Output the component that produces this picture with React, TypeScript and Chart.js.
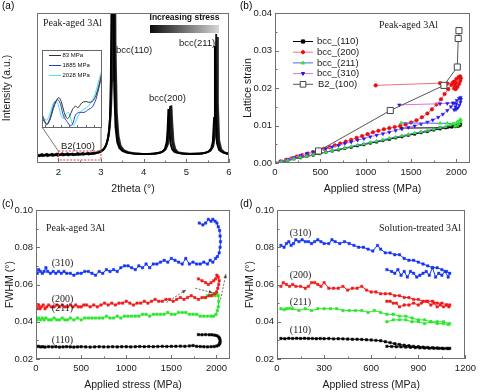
import React, { useEffect, useRef } from 'react';
import { Chart, registerables } from 'chart.js';
Chart.register(...registerables);

const SANS = "'Liberation Sans', Arial, sans-serif";
const SERIF = "'Liberation Serif', 'Times New Roman', serif";

type P = [number, number];

// ---------------- (a) XRD patterns ----------------
const A_X_TICKS = [2, 3, 4, 5, 6];
const A_SERIES = ['83 MPa', '1885 MPa', '2028 MPa'];
const A_LOW: P[] = [[1.50,5.2],[1.56,4.6],[1.62,5.6],[1.68,4.9],[1.74,5.7],[1.80,5.0],[1.86,5.8],[1.92,5.1],[1.98,5.9],[2.04,5.3],[2.10,6.1],[2.16,5.4],[2.22,6.2],[2.28,5.5],[2.34,6.0],[2.40,5.4],[2.46,6.1],[2.52,5.7],[2.58,6.3],[2.64,5.8],[2.70,6.4],[2.76,6.0],[2.82,6.6],[2.88,6.4],[2.94,7.0],[3.00,7.6],[3.05,8.6],[3.10,10.5],[3.14,13.5],[3.18,19],[3.21,30],[3.23,55],[3.25,120],[3.27,320],[3.29,120],[3.31,50],[3.34,24],[3.38,14],[3.43,10],[3.50,8],[3.60,7],[3.72,6.4],[3.85,6.1],[4.00,6.0],[4.15,6.1],[4.28,6.3],[4.38,6.8],[4.45,7.8],[4.50,9.5],[4.54,14],[4.56,22],[4.58,36],[4.60,24],[4.63,13],[4.67,9],[4.73,7.2],[4.85,6.4],[5.00,6.1],[5.15,6.0],[5.30,6.2],[5.42,6.6],[5.52,7.6],[5.58,9.5],[5.62,14],[5.65,30],[5.67,78],[5.69,32],[5.72,13],[5.77,8.5],[5.85,7],[5.95,6.2],[6.00,6.0]];
const A_MID: P[] = [[1.50,4.4],[1.57,5.4],[1.63,4.5],[1.69,5.5],[1.75,4.6],[1.81,5.6],[1.87,4.7],[1.93,5.7],[1.99,4.8],[2.05,5.8],[2.11,5.0],[2.17,5.9],[2.23,5.1],[2.29,6.0],[2.35,5.2],[2.41,5.9],[2.47,5.3],[2.53,6.0],[2.59,5.5],[2.65,6.2],[2.71,5.7],[2.77,6.3],[2.83,6.0],[2.89,6.8],[2.95,7.1],[3.01,8.0],[3.07,9.3],[3.12,12],[3.16,16],[3.20,24],[3.23,40],[3.25,70],[3.27,150],[3.29,330],[3.31,150],[3.33,60],[3.36,28],[3.40,15],[3.45,10.5],[3.52,8.2],[3.62,7],[3.75,6.3],[3.90,6.0],[4.05,5.9],[4.20,6.1],[4.32,6.5],[4.42,7.3],[4.49,8.8],[4.54,11.5],[4.58,18],[4.60,27],[4.62,38],[4.64,26],[4.67,14],[4.71,9.2],[4.78,7.1],[4.90,6.3],[5.05,6.0],[5.20,6.1],[5.35,6.3],[5.46,6.9],[5.55,8],[5.61,10.5],[5.65,16],[5.68,34],[5.70,86],[5.72,36],[5.75,14],[5.80,8.6],[5.88,6.9],[6.00,6.1]];
const A_HIGH: P[] = [[1.50,5.6],[1.55,5.0],[1.61,6.0],[1.67,5.2],[1.73,6.1],[1.79,5.3],[1.85,6.2],[1.91,5.4],[1.97,6.3],[2.03,5.5],[2.09,6.4],[2.15,5.6],[2.21,6.5],[2.27,5.7],[2.33,6.3],[2.39,5.8],[2.45,6.6],[2.51,6.0],[2.57,6.7],[2.63,6.1],[2.69,6.8],[2.75,6.3],[2.81,6.9],[2.87,6.8],[2.93,7.4],[2.99,8.0],[3.05,9.0],[3.10,11],[3.15,14.5],[3.19,20],[3.23,32],[3.26,55],[3.28,110],[3.30,260],[3.32,200],[3.34,80],[3.37,34],[3.41,18],[3.46,11.5],[3.54,8.5],[3.64,7.2],[3.78,6.5],[3.95,6.2],[4.10,6.1],[4.25,6.3],[4.36,6.8],[4.46,7.8],[4.52,9.3],[4.57,12.5],[4.61,20],[4.63,29],[4.65,38.5],[4.67,27],[4.70,14],[4.74,9.5],[4.80,7.3],[4.92,6.5],[5.08,6.2],[5.22,6.3],[5.38,6.5],[5.48,7.1],[5.57,8.3],[5.63,11],[5.67,17],[5.70,36],[5.72,84],[5.74,40],[5.77,15],[5.82,9],[5.90,7],[6.00,6.3]];
const INSET_X_TICKS = [2.05, 2.18, 2.31, 2.45, 2.59, 2.73, 2.87];
const INSET_83: P[] = [[2.00,14],[2.04,8],[2.08,4],[2.13,10],[2.19,25],[2.24,35],[2.28,39],[2.32,34],[2.37,20],[2.42,12],[2.46,15],[2.51,24],[2.56,28],[2.60,26],[2.66,32],[2.72,34],[2.78,33],[2.84,34],[2.90,42],[2.95,55],[3.00,72]];
const INSET_1885: P[] = [[2.00,18],[2.04,10],[2.08,5],[2.13,12],[2.19,28],[2.23,35],[2.27,36],[2.31,30],[2.36,15],[2.42,8],[2.47,3],[2.51,5],[2.56,17],[2.62,20],[2.70,20],[2.78,24],[2.84,27],[2.90,37],[2.95,52],[3.00,68]];
const INSET_2028: P[] = [[2.00,16],[2.04,12],[2.08,10],[2.13,18],[2.19,32],[2.23,34],[2.27,30],[2.31,18],[2.35,12],[2.40,18],[2.44,20],[2.48,12],[2.52,3],[2.56,8],[2.60,15],[2.66,22],[2.74,26],[2.82,33],[2.89,45],[2.95,62],[3.00,74]];

// ---------------- (b) lattice strain ----------------
const B_X_TICKS = [0, 500, 1000, 1500, 2000];
const B_Y_TICKS = [0, 0.01, 0.02, 0.03, 0.04];
const B_SERIES = ['bcc_(110)', 'bcc_(200)', 'bcc_(211)', 'bcc_(310)', 'B2_(100)'];
const B_110: P[] = [[0,0],[70,0.0003],[140,0.0007],[210,0.0011],[280,0.0014],[350,0.0018],[420,0.0021],[490,0.0025],[560,0.0029],[630,0.0032],[700,0.0035],[770,0.0039],[840,0.0042],[910,0.0046],[980,0.0049],[1050,0.0053],[1120,0.0056],[1190,0.0060],[1260,0.0063],[1330,0.0067],[1400,0.0070],[1470,0.0074],[1540,0.0077],[1610,0.0081],[1680,0.0084],[1750,0.0088],[1820,0.0091],[1880,0.0094],[1930,0.0097],[1970,0.0099],[2005,0.0101],[2030,0.0103],[2045,0.0104],[2040,0.0100],[2020,0.0098],[1990,0.0097],[1950,0.0096],[1900,0.0095],[1820,0.0094],[1390,0.0093]];
const B_200: P[] = [[0,0],[60,0.0004],[120,0.0008],[180,0.0012],[240,0.0017],[300,0.0021],[360,0.0025],[420,0.0029],[480,0.0034],[540,0.0038],[600,0.0042],[660,0.0047],[720,0.0052],[780,0.0057],[840,0.0062],[900,0.0067],[960,0.0072],[1020,0.0077],[1080,0.0082],[1140,0.0086],[1200,0.0090],[1260,0.0093],[1320,0.0096],[1380,0.0099],[1440,0.0103],[1500,0.0108],[1560,0.0114],[1620,0.0122],[1680,0.0132],[1730,0.0143],[1780,0.0156],[1830,0.0170],[1870,0.0184],[1910,0.0197],[1945,0.0208],[1975,0.0217],[2000,0.0224],[2025,0.0229],[2042,0.0231],[2048,0.0226],[2042,0.0219],[2030,0.0211],[2012,0.0203],[1992,0.0197],[1975,0.0199],[1985,0.0207],[1995,0.0215],[1960,0.0214],[1900,0.0212],[1820,0.0213],[1110,0.0207]];
const B_211: P[] = [[0,0],[70,0.0004],[140,0.0007],[210,0.0011],[280,0.0015],[350,0.0018],[420,0.0022],[490,0.0026],[560,0.0029],[630,0.0033],[700,0.0037],[770,0.0040],[840,0.0044],[910,0.0048],[980,0.0051],[1050,0.0055],[1120,0.0058],[1190,0.0062],[1260,0.0066],[1330,0.0069],[1400,0.0073],[1470,0.0076],[1540,0.0080],[1610,0.0083],[1680,0.0087],[1750,0.0090],[1820,0.0094],[1880,0.0097],[1930,0.0101],[1975,0.0105],[2010,0.0110],[2035,0.0114],[2048,0.0116],[2045,0.0110],[2030,0.0104],[2010,0.0100],[1985,0.0098],[1960,0.0104],[1900,0.0106],[1820,0.0106],[1390,0.0107]];
const B_310: P[] = [[0,0],[70,0.0005],[140,0.0010],[210,0.0015],[280,0.0020],[350,0.0025],[420,0.0029],[490,0.0034],[560,0.0038],[630,0.0043],[700,0.0047],[770,0.0052],[840,0.0056],[910,0.0061],[980,0.0065],[1050,0.0070],[1120,0.0074],[1190,0.0078],[1260,0.0082],[1330,0.0087],[1400,0.0091],[1470,0.0095],[1540,0.0099],[1610,0.0104],[1680,0.0109],[1740,0.0115],[1800,0.0122],[1850,0.0130],[1900,0.0140],[1940,0.0150],[1975,0.0160],[2005,0.0167],[2030,0.0172],[2045,0.0175],[2050,0.0170],[2045,0.0162],[2032,0.0154],[2015,0.0147],[1995,0.0143],[1975,0.0142],[1990,0.0150],[2000,0.0158],[1960,0.0160],[1900,0.0159],[1820,0.0158],[1370,0.0155]];
const B_B2: P[] = [[480,0.0032],[1271,0.0140],[1862,0.0207],[2010,0.0256],[2020,0.0332],[2028,0.0353]];

// ---------------- (c) FWHM, peak-aged ----------------
const CD_Y_TICKS = [0.02, 0.04, 0.06, 0.08, 0.10];
const C_X_TICKS = [0, 500, 1000, 1500, 2000];
const PEAK_LABELS = ['(310)', '(200)', '(211)', '(110)'];
const C_310: P[] = [[0,0.067],[15,0.066],[30,0.068],[50,0.067],[70,0.066],[90,0.067],[110,0.069],[130,0.067],[160,0.066],[190,0.067],[220,0.066],[250,0.067],[280,0.066],[310,0.067],[340,0.066],[380,0.066],[420,0.065],[460,0.066],[500,0.066],[540,0.067],[580,0.067],[620,0.066],[660,0.065],[700,0.067],[740,0.066],[780,0.068],[820,0.067],[860,0.068],[900,0.067],[940,0.069],[980,0.070],[1020,0.070],[1060,0.069],[1100,0.068],[1140,0.070],[1180,0.069],[1220,0.071],[1260,0.069],[1300,0.071],[1340,0.071],[1380,0.072],[1420,0.073],[1460,0.072],[1500,0.074],[1540,0.073],[1580,0.072],[1620,0.071],[1660,0.074],[1700,0.071],[1740,0.072],[1780,0.071],[1820,0.071],[1860,0.072],[1900,0.071],[1930,0.073],[1960,0.072],[1990,0.074],[2010,0.075],[2030,0.077],[2040,0.080],[2045,0.083],[2040,0.086],[2035,0.089],[2020,0.091],[2005,0.093],[1985,0.094],[1960,0.095],[1940,0.094],[1910,0.095],[1880,0.093],[1850,0.092],[1810,0.093]];
const C_200: P[] = [[0,0.048],[15,0.047],[30,0.049],[45,0.047],[60,0.048],[80,0.049],[100,0.047],[120,0.048],[140,0.049],[170,0.048],[200,0.048],[230,0.049],[260,0.048],[290,0.049],[320,0.048],[350,0.048],[380,0.049],[410,0.048],[440,0.049],[470,0.048],[500,0.048],[530,0.049],[560,0.049],[600,0.048],[640,0.049],[680,0.048],[720,0.049],[760,0.050],[800,0.049],[840,0.050],[880,0.049],[920,0.050],[960,0.050],[1000,0.051],[1040,0.050],[1080,0.049],[1120,0.050],[1160,0.050],[1200,0.051],[1240,0.050],[1280,0.051],[1320,0.052],[1360,0.051],[1400,0.051],[1440,0.052],[1480,0.052],[1520,0.051],[1560,0.052],[1600,0.053],[1640,0.052],[1680,0.053],[1720,0.054],[1760,0.053],[1800,0.052],[1840,0.053],[1880,0.053],[1920,0.054],[1950,0.054],[1980,0.055],[2000,0.056],[2015,0.058],[2025,0.060],[2030,0.062],[2020,0.064],[2005,0.065],[1990,0.063],[1970,0.062],[1940,0.061],[1910,0.060],[1880,0.061],[1840,0.062],[1800,0.063]];
const C_211: P[] = [[0,0.042],[15,0.041],[30,0.042],[50,0.041],[70,0.042],[90,0.041],[110,0.042],[140,0.041],[170,0.041],[200,0.042],[230,0.041],[260,0.041],[290,0.042],[320,0.041],[350,0.041],[380,0.042],[420,0.041],[460,0.042],[500,0.041],[540,0.042],[580,0.042],[620,0.042],[660,0.042],[700,0.042],[740,0.042],[780,0.043],[820,0.042],[860,0.042],[900,0.043],[940,0.042],[980,0.043],[1020,0.043],[1060,0.043],[1100,0.043],[1140,0.043],[1180,0.044],[1220,0.044],[1260,0.043],[1300,0.044],[1340,0.044],[1380,0.044],[1420,0.044],[1460,0.045],[1500,0.044],[1540,0.044],[1580,0.045],[1620,0.045],[1660,0.045],[1700,0.044],[1740,0.044],[1780,0.044],[1820,0.043],[1860,0.043],[1900,0.043],[1940,0.043],[1970,0.043],[1995,0.044],[2010,0.046],[2020,0.048],[2025,0.051],[2020,0.054],[2005,0.055],[1985,0.054],[1960,0.055],[1930,0.054],[1900,0.054],[1870,0.053]];
const C_110: P[] = [[0,0.0265],[25,0.0268],[50,0.0265],[75,0.0266],[100,0.0264],[140,0.0266],[180,0.0265],[220,0.0266],[260,0.0264],[300,0.0265],[340,0.0266],[380,0.0265],[420,0.0264],[460,0.0265],[500,0.0266],[550,0.0265],[600,0.0264],[650,0.0265],[700,0.0266],[750,0.0265],[800,0.0265],[850,0.0266],[900,0.0265],[950,0.0266],[1000,0.0266],[1050,0.0265],[1100,0.0266],[1150,0.0267],[1200,0.0266],[1250,0.0267],[1300,0.0266],[1350,0.0267],[1400,0.0268],[1450,0.0267],[1500,0.0268],[1550,0.0268],[1600,0.0269],[1650,0.0268],[1700,0.0270],[1740,0.0272],[1780,0.0268],[1820,0.0267],[1860,0.0266],[1900,0.0265],[1940,0.0266],[1975,0.0267],[2005,0.0270],[2025,0.0275],[2035,0.0282],[2040,0.0290],[2040,0.0300],[2035,0.0310],[2025,0.0318],[2005,0.0325],[1980,0.0328],[1950,0.0330],[1920,0.0330],[1880,0.0331],[1840,0.0330],[1800,0.0331]];
const C_ARROWS: [P, P][] = [[[1445,0.0503],[1660,0.0570]],[[1766,0.0580],[1955,0.0556]],[[2045,0.0520],[2105,0.0655]]];

// ---------------- (d) FWHM, solution-treated ----------------
const D_X_TICKS = [0, 300, 600, 900, 1200];
const D_310: P[] = [[25,0.081],[45,0.080],[60,0.082],[75,0.083],[90,0.081],[105,0.082],[120,0.084],[140,0.083],[160,0.084],[180,0.083],[200,0.083],[220,0.082],[240,0.083],[260,0.084],[280,0.083],[300,0.082],[330,0.082],[350,0.084],[370,0.083],[400,0.082],[430,0.083],[460,0.082],[490,0.081],[520,0.080],[550,0.080],[580,0.079],[610,0.078],[640,0.081],[660,0.079],[690,0.077],[720,0.077],[750,0.076],[780,0.076],[810,0.074],[840,0.073],[870,0.073],[900,0.072],[930,0.071],[960,0.070],[990,0.069],[1020,0.069],[1050,0.068],[1080,0.067],[1100,0.066],[1090,0.064],[1070,0.067],[1050,0.065],[1030,0.066],[1010,0.064],[990,0.069],[970,0.065],[950,0.067],[930,0.066],[910,0.065],[890,0.064],[870,0.066],[850,0.067],[830,0.064],[810,0.067],[790,0.065],[770,0.068],[750,0.066],[730,0.067],[700,0.068]];
const D_200: P[] = [[25,0.059],[40,0.061],[60,0.060],[80,0.059],[100,0.060],[120,0.059],[150,0.059],[180,0.058],[200,0.059],[220,0.061],[240,0.061],[260,0.060],[280,0.059],[300,0.061],[330,0.058],[360,0.058],[390,0.058],[420,0.059],[450,0.057],[480,0.058],[510,0.058],[540,0.059],[570,0.057],[600,0.056],[630,0.056],[660,0.055],[690,0.055],[720,0.055],[750,0.054],[780,0.054],[810,0.053],[840,0.053],[870,0.052],[900,0.052],[930,0.051],[960,0.051],[990,0.051],[1020,0.050],[1050,0.050],[1080,0.049],[1100,0.049],[1095,0.048],[1080,0.049],[1060,0.048],[1040,0.049],[1020,0.048],[1000,0.050],[980,0.049],[950,0.051],[920,0.050],[900,0.049],[870,0.050],[840,0.049],[810,0.049],[780,0.048],[760,0.050],[740,0.050],[720,0.051],[700,0.051]];
const D_211: P[] = [[25,0.047],[45,0.0465],[60,0.047],[80,0.0472],[100,0.047],[140,0.046],[180,0.047],[220,0.046],[260,0.047],[300,0.047],[340,0.047],[380,0.047],[420,0.046],[460,0.046],[500,0.046],[540,0.046],[580,0.045],[620,0.046],[660,0.045],[700,0.044],[740,0.044],[780,0.043],[820,0.043],[860,0.042],[900,0.041],[940,0.041],[980,0.040],[1020,0.040],[1060,0.040],[1100,0.039],[1090,0.0385],[1060,0.039],[1020,0.039],[980,0.040],[940,0.039],[900,0.040],[860,0.040],[820,0.041],[780,0.041],[740,0.041],[700,0.040]];
const D_110: P[] = [[25,0.0310],[50,0.0309],[75,0.0311],[100,0.0310],[125,0.0311],[150,0.0310],[175,0.0311],[200,0.0310],[225,0.0310],[250,0.0309],[275,0.0310],[300,0.0309],[330,0.0310],[360,0.0308],[390,0.0309],[420,0.0308],[450,0.0307],[480,0.0306],[510,0.0306],[540,0.0305],[570,0.0303],[600,0.0302],[630,0.0300],[660,0.0298],[690,0.0293],[720,0.0288],[750,0.0282],[780,0.0278],[810,0.0274],[840,0.0271],[870,0.0268],[900,0.0266],[930,0.0264],[960,0.0262],[990,0.0260],[1020,0.0259],[1050,0.0258],[1080,0.0257],[1100,0.0257],[1090,0.0256],[1060,0.0256],[1030,0.0257],[1000,0.0258],[970,0.0258],[940,0.0259],[910,0.0260],[880,0.0261],[850,0.0263],[820,0.0264],[790,0.0265],[760,0.0266],[730,0.0267],[700,0.0268]];

// ---------------- helpers ----------------
const xy = (a: P[]) => a.map(([x, y]) => ({ x, y }));
const TXT = '#1a1a1a';
const FRAME = '#707070';

function axes(o: any) {
  const tickFont = { family: SANS, size: 9.5 };
  const titleFont = { family: SANS, size: 10.5 };
  return {
    x: {
      type: 'linear', min: o.xMin, max: o.xMax,
      afterBuildTicks: (s: any) => { s.ticks = o.xTicks.map((v: number) => ({ value: v })); },
      afterFit: (s: any) => { s.height = 33; },
      grid: { display: false, drawTicks: false }, border: { display: false },
      ticks: { font: tickFont, color: TXT, padding: 4, maxRotation: 0, autoSkip: false, callback: (v: any) => String(v) },
      title: { display: true, text: o.xTitle, font: titleFont, color: TXT, padding: { top: 0, bottom: 1 } },
    },
    y: {
      type: 'linear', min: o.yMin, max: o.yMax,
      afterBuildTicks: (s: any) => { s.ticks = (o.yTicks || []).map((v: number) => ({ value: v })); },
      afterFit: (s: any) => { s.width = o.yW; },
      grid: { display: false, drawTicks: false }, border: { display: false },
      ticks: { display: !!o.yTicks, font: tickFont, color: TXT, padding: 3, callback: (v: any) => Number(v).toFixed(2) },
      title: { display: true, text: o.yTitle, font: titleFont, color: TXT, padding: { top: o.yTitlePad, bottom: 0 } },
    },
  };
}

const frameTicks = {
  id: 'frameTicks',
  afterDatasetsDraw(chart: any) {
    const { ctx, chartArea: ca } = chart;
    ctx.save();
    ctx.strokeStyle = FRAME;
    ctx.lineWidth = 1;
    const l = Math.round(ca.left), t = Math.round(ca.top), r = Math.round(ca.right), b = Math.round(ca.bottom);
    ctx.strokeRect(l + 0.5, t + 0.5, r - l - 1, b - t - 1);
    const draw = (scale: any, isX: boolean) => {
      const vals = scale.ticks.map((tk: any) => tk.value);
      if (!vals.length) return;
      const minors: number[] = [];
      for (let i = 0; i < vals.length - 1; i++) minors.push((vals[i] + vals[i + 1]) / 2);
      if (vals.length > 1) {
        const d = vals[1] - vals[0];
        const lo = vals[0] - d / 2, hi = vals[vals.length - 1] + d / 2;
        if (lo > scale.min) minors.push(lo);
        if (hi < scale.max) minors.push(hi);
      }
      ctx.beginPath();
      const put = (v: number, len: number) => {
        const p = Math.round(scale.getPixelForValue(v)) + 0.5;
        if (isX) { ctx.moveTo(p, b); ctx.lineTo(p, b - len); }
        else { ctx.moveTo(l, p); ctx.lineTo(l + len, p); }
      };
      vals.forEach((v: number) => put(v, 4));
      minors.forEach((v: number) => put(v, 2.5));
      ctx.stroke();
    };
    draw(chart.scales.x, true);
    draw(chart.scales.y, false);
    ctx.restore();
  },
};

function text(ctx: any, s: string, x: number, y: number, font: string, align = 'left', color = TXT) {
  ctx.font = font;
  ctx.fillStyle = color;
  ctx.textAlign = align;
  ctx.textBaseline = 'middle';
  ctx.fillText(s, x, y);
}

function marker(ctx: any, style: string, x: number, y: number, r: number, fill: string, stroke: string, rot: number) {
  ctx.beginPath();
  if (style === 'rect') ctx.rect(x - r, y - r, 2 * r, 2 * r);
  else if (style === 'circle') ctx.arc(x, y, r, 0, Math.PI * 2);
  else {
    const s = rot === 180 ? -1 : 1;
    ctx.moveTo(x, y - s * r * 1.1);
    ctx.lineTo(x + r, y + s * r * 0.7);
    ctx.lineTo(x - r, y + s * r * 0.7);
    ctx.closePath();
  }
  ctx.fillStyle = fill;
  ctx.fill();
  ctx.lineWidth = 1;
  ctx.strokeStyle = stroke;
  ctx.stroke();
}

const base = (padTop: number, padRight: number) => ({
  animation: false,
  responsive: false,
  devicePixelRatio: 1,
  layout: { padding: { top: padTop, right: padRight, left: 0, bottom: 0 } },
  plugins: { legend: { display: false }, tooltip: { enabled: false } },
});

// ---------------- chart configs ----------------
const INSET = { left: 42, top: 50, width: 60, height: 78 };

function makeA(): any {
  const colors = ['#000000', '#141414', '#2c2c2c'];
  const series = [A_LOW, A_MID, A_HIGH];
  const decor = {
    id: 'decorA',
    afterDraw(chart: any) {
      const { ctx } = chart;
      const xs = chart.scales.x, ys = chart.scales.y;
      ctx.save();
      const x1 = xs.getPixelForValue(2.0), x2 = xs.getPixelForValue(3.0);
      const y1 = ys.getPixelForValue(8), y2 = ys.getPixelForValue(2);
      ctx.strokeStyle = '#e03a3a';
      ctx.lineWidth = 1;
      ctx.setLineDash([2, 1.5]);
      ctx.strokeRect(x1, y1, x2 - x1, y2 - y1);
      ctx.setLineDash([]);
      ctx.strokeStyle = '#555';
      ctx.lineWidth = 0.8;
      ctx.beginPath();
      ctx.moveTo(INSET.left, INSET.top + INSET.height - 1);
      ctx.lineTo(x1, y1);
      ctx.moveTo(INSET.left + INSET.width - 1, INSET.top + INSET.height - 1);
      ctx.lineTo(x2, y1);
      ctx.stroke();
      const g = ctx.createLinearGradient(150, 0, 219, 0);
      g.addColorStop(0, '#0a0a0a');
      g.addColorStop(1, '#d6d6d6');
      ctx.fillStyle = g;
      ctx.fillRect(150, 25, 69, 8);
      text(ctx, 'Increasing stress', 184.5, 18, `bold 8.5px ${SANS}`, 'center', '#111');
      text(ctx, 'Peak-aged 3Al', 43, 23, `10px ${SERIF}`);
      const lf = `9.5px ${SANS}`;
      text(ctx, 'bcc(110)', 116, 50, lf);
      text(ctx, 'bcc(200)', 149, 98, lf);
      text(ctx, 'bcc(211)', 179, 43, lf);
      text(ctx, 'B2(100)', 61, 146, lf);
      text(ctx, '(a)', 2, 6, `10px ${SANS}`, 'left', '#000');
      ctx.restore();
    },
  };
  return {
    type: 'line',
    data: {
      datasets: series.map((s, i) => ({
        label: A_SERIES[i], data: xy(s), borderColor: colors[i], borderWidth: 1.9, pointRadius: 0, tension: 0,
      })),
    },
    options: {
      ...base(13, 11),
      scales: axes({ xMin: 1.5, xMax: 6, xTicks: A_X_TICKS, yMin: 0, yMax: 100, yTicks: null, xTitle: '2theta (°)', yTitle: 'Intensity (a.u.)', yW: 37, yTitlePad: 1 }),
    },
    plugins: [frameTicks, decor],
  };
}

function makeInset(): any {
  const colors = ['#333333', '#2b3fd0', '#45e6e6'];
  const series = [INSET_83, INSET_1885, INSET_2028];
  const deco = {
    id: 'insetDeco',
    beforeDraw(chart: any) {
      const { ctx, width, height } = chart;
      ctx.save();
      ctx.fillStyle = '#fff';
      ctx.fillRect(0, 0, width, height);
      ctx.restore();
    },
    afterDraw(chart: any) {
      const { ctx, width, height } = chart;
      const xs = chart.scales.x;
      ctx.save();
      ctx.strokeStyle = '#666';
      ctx.lineWidth = 1;
      ctx.strokeRect(0.5, 0.5, width - 1, height - 1);
      ctx.beginPath();
      INSET_X_TICKS.forEach((v) => {
        const p = Math.round(xs.getPixelForValue(v)) + 0.5;
        ctx.moveTo(p, height - 1);
        ctx.lineTo(p, height - 3);
      });
      ctx.stroke();
      chart.data.datasets.forEach((ds: any, i: number) => {
        const y = 5.5 + i * 10;
        ctx.strokeStyle = ds.borderColor;
        ctx.lineWidth = 1;
        ctx.beginPath();
        ctx.moveTo(7, y);
        ctx.lineTo(19, y);
        ctx.stroke();
        text(ctx, ds.label, 20.5, y, `6px ${SANS}`, 'left', '#111');
      });
      ctx.restore();
    },
  };
  return {
    type: 'line',
    data: {
      datasets: series.map((s, i) => ({
        label: A_SERIES[i], data: xy(s), borderColor: colors[i], borderWidth: 1, pointRadius: 0, tension: 0.3,
      })),
    },
    options: {
      ...base(0, 0),
      scales: {
        x: { type: 'linear', min: 2.0, max: 3.0, display: false },
        y: { type: 'linear', min: 0, max: 100, display: false },
      },
    },
    plugins: [deco],
  };
}

function makeB(): any {
  const sty = [
    { line: '#000000', fill: '#000000', stroke: '#000000', style: 'rect', r: 1.7, rot: 0, order: 5 },
    { line: '#f0707a', fill: '#e80f0f', stroke: '#e80f0f', style: 'circle', r: 1.8, rot: 0, order: 4 },
    { line: '#4a63ff', fill: '#2ee82e', stroke: '#2ee82e', style: 'triangle', r: 2, rot: 0, order: 2 },
    { line: '#e36fe3', fill: '#1a1ae6', stroke: '#1a1ae6', style: 'triangle', r: 2, rot: 180, order: 3 },
    { line: '#555555', fill: '#ffffff', stroke: '#444444', style: 'rect', r: 4.3, rot: 0, order: 1 },
  ];
  const series = [B_110, B_200, B_211, B_310, B_B2];
  const decor = {
    id: 'decorB',
    afterDraw(chart: any) {
      const { ctx } = chart;
      ctx.save();
      sty.forEach((s, i) => {
        const y = 41 + i * 10.7;
        ctx.strokeStyle = s.line;
        ctx.lineWidth = 1;
        ctx.beginPath();
        ctx.moveTo(53, y + 0.5);
        ctx.lineTo(73, y + 0.5);
        ctx.stroke();
        marker(ctx, s.style, 63, y + 0.5, i === 4 ? 2.8 : 1.6, s.fill, s.stroke, s.rot);
        text(ctx, B_SERIES[i], i === 4 ? 78 : 77, y + 0.5, `9.5px ${SANS}`);
      });
      text(ctx, 'Peak-aged 3Al', 139, 25, `10px ${SERIF}`);
      text(ctx, '(b)', 0, 6, `10px ${SANS}`, 'left', '#000');
      ctx.restore();
    },
  };
  return {
    type: 'line',
    data: {
      datasets: series.map((d, i) => ({
        label: B_SERIES[i], data: xy(d), borderColor: sty[i].line, borderWidth: 1, tension: 0,
        pointStyle: sty[i].style, pointRadius: sty[i].r, pointRotation: sty[i].rot,
        pointBackgroundColor: sty[i].fill, pointBorderColor: sty[i].stroke, pointBorderWidth: i === 4 ? 1 : 0.5,
        order: sty[i].order,
      })),
    },
    options: {
      ...base(13, 10),
      scales: axes({ xMin: 0, xMax: 2150, xTicks: B_X_TICKS, yMin: 0, yMax: 0.04, yTicks: B_Y_TICKS, xTitle: 'Applied stress (MPa)', yTitle: 'Lattice strain', yW: 35, yTitlePad: 1.5 }),
    },
    plugins: [frameTicks, decor],
  };
}

const FW_COLORS = ['#1434f2', '#f01a1a', '#2be62b', '#000000'];

function fwDatasets(series: P[][]) {
  return series.map((d, i) => ({
    label: PEAK_LABELS[i], data: xy(d), borderColor: FW_COLORS[i], borderWidth: 1, tension: 0,
    pointStyle: 'rect', pointRadius: 1.7, pointBackgroundColor: FW_COLORS[i], pointBorderColor: FW_COLORS[i], pointBorderWidth: 0.5,
  }));
}

function makeC(): any {
  const decor = {
    id: 'decorC',
    afterDraw(chart: any) {
      const { ctx } = chart;
      const xs = chart.scales.x, ys = chart.scales.y;
      ctx.save();
      ctx.strokeStyle = '#444';
      ctx.fillStyle = '#444';
      ctx.lineWidth = 0.8;
      C_ARROWS.forEach(([a, b]) => {
        const ax = xs.getPixelForValue(a[0]), ay = ys.getPixelForValue(a[1]);
        const bx = xs.getPixelForValue(b[0]), by = ys.getPixelForValue(b[1]);
        ctx.setLineDash([2, 1.5]);
        ctx.beginPath();
        ctx.moveTo(ax, ay);
        ctx.lineTo(bx, by);
        ctx.stroke();
        ctx.setLineDash([]);
        const ang = Math.atan2(by - ay, bx - ax);
        ctx.beginPath();
        ctx.moveTo(bx, by);
        ctx.lineTo(bx - 4 * Math.cos(ang - 0.45), by - 4 * Math.sin(ang - 0.45));
        ctx.lineTo(bx - 4 * Math.cos(ang + 0.45), by - 4 * Math.sin(ang + 0.45));
        ctx.closePath();
        ctx.fill();
      });
      const f = `10px ${SERIF}`;
      text(ctx, 'Peak-aged 3Al', 46, 32, f);
      text(ctx, PEAK_LABELS[0], 62.5, 67.5, f, 'center');
      text(ctx, PEAK_LABELS[1], 62.5, 103, f, 'center');
      text(ctx, PEAK_LABELS[2], 62.5, 112.5, f, 'center');
      text(ctx, PEAK_LABELS[3], 62.5, 144, f, 'center');
      text(ctx, '(c)', 2, 8.5, `10px ${SANS}`, 'left', '#000');
      ctx.restore();
    },
  };
  return {
    type: 'line',
    data: { datasets: fwDatasets([C_310, C_200, C_211, C_110]) },
    options: {
      ...base(14, 10),
      scales: axes({ xMin: 0, xMax: 2150, xTicks: C_X_TICKS, yMin: 0.02, yMax: 0.10, yTicks: CD_Y_TICKS, xTitle: 'Applied stress (MPa)', yTitle: 'FWHM (°)', yW: 36, yTitlePad: 4 }),
    },
    plugins: [frameTicks, decor],
  };
}

function makeD(): any {
  const decor = {
    id: 'decorD',
    afterDraw(chart: any) {
      const { ctx } = chart;
      ctx.save();
      const f = `10px ${SERIF}`;
      text(ctx, 'Solution-treated 3Al', 139, 32, f);
      text(ctx, PEAK_LABELS[0], 60.5, 37, f, 'center');
      text(ctx, PEAK_LABELS[1], 60.5, 79, f, 'center');
      text(ctx, PEAK_LABELS[2], 60.5, 106.5, f, 'center');
      text(ctx, PEAK_LABELS[3], 60.5, 134.5, f, 'center');
      text(ctx, '(d)', 0, 8.5, `10px ${SANS}`, 'left', '#000');
      ctx.restore();
    },
  };
  return {
    type: 'line',
    data: { datasets: fwDatasets([D_310, D_200, D_211, D_110]) },
    options: {
      ...base(14, 12),
      scales: axes({ xMin: 0, xMax: 1200, xTicks: D_X_TICKS, yMin: 0.02, yMax: 0.10, yTicks: CD_Y_TICKS, xTitle: 'Applied stress (MPa)', yTitle: 'FWHM (°)', yW: 37, yTitlePad: 4 }),
    },
    plugins: [frameTicks, decor],
  };
}

function ChartCanvas({ make, left, top, width, height }: { make: () => any; left: number; top: number; width: number; height: number }) {
  const ref = useRef<HTMLCanvasElement>(null);
  useEffect(() => {
    const chart = new Chart(ref.current as HTMLCanvasElement, make());
    return () => chart.destroy();
  }, []);
  return <canvas ref={ref} width={width} height={height} style={{ position: 'absolute', left, top, width, height }} />;
}

export default function App() {
  return (
    <div style={{ position: 'fixed', left: 0, top: 0, width: 480, height: 392, background: '#fff', overflow: 'hidden' }}>
      <ChartCanvas make={makeA} left={0} top={0} width={240} height={196} />
      <ChartCanvas make={makeInset} left={INSET.left} top={INSET.top} width={INSET.width} height={INSET.height} />
      <ChartCanvas make={makeB} left={240} top={0} width={240} height={196} />
      <ChartCanvas make={makeC} left={0} top={196} width={240} height={196} />
      <ChartCanvas make={makeD} left={240} top={196} width={240} height={196} />
    </div>
  );
}
